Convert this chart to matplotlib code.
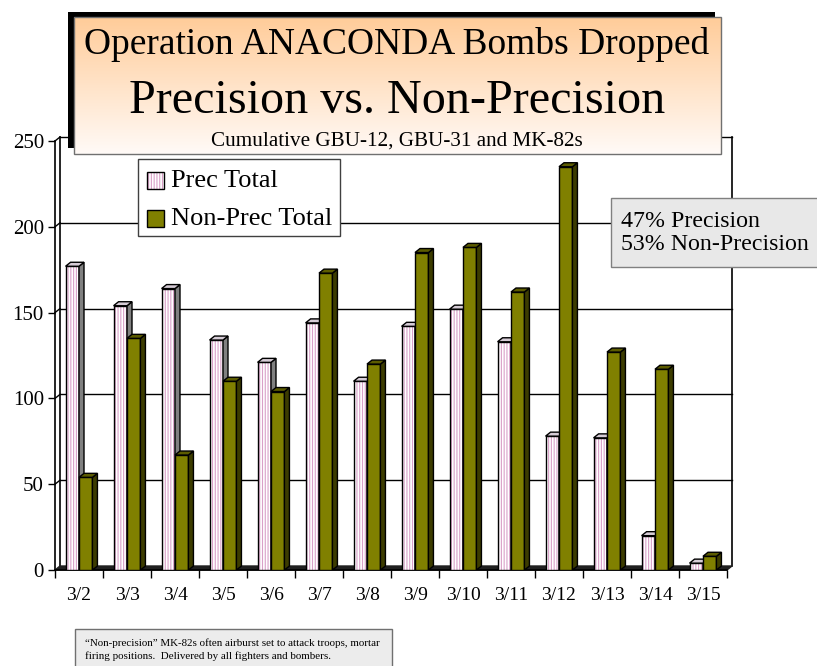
import matplotlib
matplotlib.use('Agg')
import matplotlib.pyplot as plt
import numpy as np
from matplotlib.patches import Rectangle

categories = ['3/2', '3/3', '3/4', '3/5', '3/6', '3/7', '3/8', '3/9', '3/10',
              '3/11', '3/12', '3/13', '3/14', '3/15']
prec_total = [177, 154, 164, 134, 121, 144, 110, 142, 152, 133, 78, 77, 20, 4]
nonprec_total = [54, 135, 67, 110, 104, 173, 120, 185, 188, 162, 235, 127, 117, 8]
y_ticks = [0, 50, 100, 150, 200, 250]
series_names = ['Prec Total', 'Non-Prec Total']
title1 = 'Operation ANACONDA Bombs Dropped'
title2 = 'Precision vs. Non-Precision'
title3 = 'Cumulative GBU-12, GBU-31 and MK-82s'
pct_text = '47% Precision\n53% Non-Precision'
note_text = ('\u201cNon-precision\u201d MK-82s often airburst set to attack troops, mortar\n'
             'firing positions.  Delivered by all fighters and bombers.')

plt.rcParams['font.family'] = ['Liberation Serif', 'DejaVu Serif']
plt.rcParams['hatch.linewidth'] = 0.8

W, H = 817, 666
fig = plt.figure(figsize=(W / 100, H / 100), dpi=100)


def rect(x0, y0, x1, y1):
    return [x0 / W, 1 - y1 / H, (x1 - x0) / W, (y1 - y0) / H]


AX_L, AX_T, AX_R, AX_B = 55, 141, 727, 570
ax = fig.add_axes(rect(AX_L, AX_T, AX_R, AX_B))
n = len(categories)
ax.set_xlim(-0.5, n - 0.5)
ax.set_ylim(0, 250)
for s in ax.spines.values():
    s.set_visible(False)

pxx = (AX_R - AX_L) / n          # px per category
pxy = (AX_B - AX_T) / 250.0      # px per unit
dx = 5 / pxx
dy = 4 / pxy

# back wall gridlines and walls
x0w, x1w = -0.5 + dx, n - 0.5 + dx
for v in y_ticks[1:]:
    ax.plot([x0w, x1w], [v + dy, v + dy], color='black', lw=1.0, zorder=1, clip_on=False)
    ax.plot([-0.5, x0w], [v, v + dy], color='black', lw=1.0, zorder=1, clip_on=False)
ax.plot([-0.5, -0.5], [0, 250], color='black', lw=1.2, zorder=1, clip_on=False)
ax.plot([x0w, x0w], [dy, 250 + dy], color='black', lw=1.2, zorder=1, clip_on=False)
ax.plot([x1w, x1w], [dy, 250 + dy], color='black', lw=1.2, zorder=1, clip_on=False)
# floor
ax.fill([-0.5, n - 0.5, x1w, x0w], [0, 0, dy, dy], color='#202020', zorder=1, clip_on=False)
ax.plot([-0.5, n - 0.5], [0, 0], color='black', lw=1.2, zorder=1, clip_on=False)

# ticks
ax.set_yticks(y_ticks)
ax.set_yticklabels([str(v) for v in y_ticks])
ax.tick_params(axis='y', length=5, width=1, pad=3, labelsize=15, direction='out')
ax.set_xticks(np.arange(n))
ax.set_xticklabels(categories)
ax.tick_params(axis='x', which='major', length=0, pad=12, labelsize=14)
ax.set_xticks(np.arange(n + 1) - 0.5, minor=True)
ax.tick_params(axis='x', which='minor', length=6, width=1, direction='out')

bw = 0.28
z = 3
for i in range(n):
    for k, (vals, front, side, top) in enumerate([
            (prec_total, 'white', '#808080', '#d6ccd6'),
            (nonprec_total, '#808000', '#3c3c00', '#5c5c00')]):
        v = vals[i]
        xl = i - bw if k == 0 else i
        xr = xl + bw
        if k == 0:
            ax.bar(xl, v, width=bw, align='edge', facecolor='white', edgecolor='#d9a0c8',
                   hatch='||||||', linewidth=0, zorder=z)
            ax.bar(xl, v, width=bw, align='edge', facecolor='none', edgecolor='black',
                   linewidth=1.0, zorder=z + 0.1)
        else:
            ax.bar(xl, v, width=bw, align='edge', facecolor=front, edgecolor='black',
                   linewidth=1.0, zorder=z)
        ax.fill([xr, xr + dx, xr + dx, xr], [0, dy, v + dy, v], facecolor=side,
                edgecolor='black', lw=1.0, zorder=z + 0.2)
        ax.fill([xl, xl + dx, xr + dx, xr], [v, v + dy, v + dy, v], facecolor=top,
                edgecolor='black', lw=1.0, zorder=z + 0.2)
        z += 1

# overlay in pixel coordinates
ov = fig.add_axes([0, 0, 1, 1], zorder=10)
ov.axis('off')

# title box with shadow and gradient
ov.add_patch(Rectangle((68, 12), 647, 136, facecolor='black', edgecolor='none', zorder=1))
grad = np.linspace(0, 1, 256)[:, None]
top_c = np.array([255, 204, 153]) / 255
bot_c = np.array([255, 250, 247]) / 255
img = top_c[None, None, :] * (1 - grad[:, :, None]) + bot_c[None, None, :] * grad[:, :, None]
img = np.repeat(img, 2, axis=1)
ov.imshow(img, extent=(74, 721, 154, 17), aspect='auto', zorder=2, interpolation='bilinear')
ov.add_patch(Rectangle((74, 17), 647, 137, facecolor='none', edgecolor='#707070', lw=1.0, zorder=3))
ov.set_xlim(0, W)
ov.set_ylim(H, 0)
ov.text(397, 44, title1, ha='center', va='center', fontsize=27, zorder=4)
ov.text(397, 101, title2, ha='center', va='center', fontsize=34.7, zorder=4)
ov.text(397, 141, title3, ha='center', va='center', fontsize=15.2, zorder=4)

# legend (drawn manually)
ov.add_patch(Rectangle((138, 159), 202, 77, facecolor='white', edgecolor='#404040', lw=1.0, zorder=1))
ov.add_patch(Rectangle((147, 172), 17, 17, facecolor='white', edgecolor='#d9a0c8',
                       hatch='||||||', lw=0, zorder=2))
ov.add_patch(Rectangle((147, 172), 17, 17, facecolor='none', edgecolor='black', lw=1.0, zorder=3))
ov.add_patch(Rectangle((147, 210), 17, 17, facecolor='#808000', edgecolor='black', lw=1.0, zorder=2))
ov.text(171, 181, series_names[0], ha='left', va='center', fontsize=19, zorder=4)
ov.text(171, 219, series_names[1], ha='left', va='center', fontsize=19, zorder=4)

# percentage box
ov.add_patch(Rectangle((611, 198), 210, 69, facecolor='#e8e8e8', edgecolor='#808080', lw=1.0, zorder=1))
ov.text(621, 233, pct_text, ha='left', va='center', fontsize=17.2, linespacing=1.15, zorder=4)

# note box
ov.add_patch(Rectangle((75, 629), 317, 60, facecolor='#ececec', edgecolor='#707070', lw=1.0, zorder=1))
ov.text(85, 650, note_text, ha='left', va='center', fontsize=7.9, linespacing=1.45, zorder=4)

fig.savefig('out.png', dpi=100)
